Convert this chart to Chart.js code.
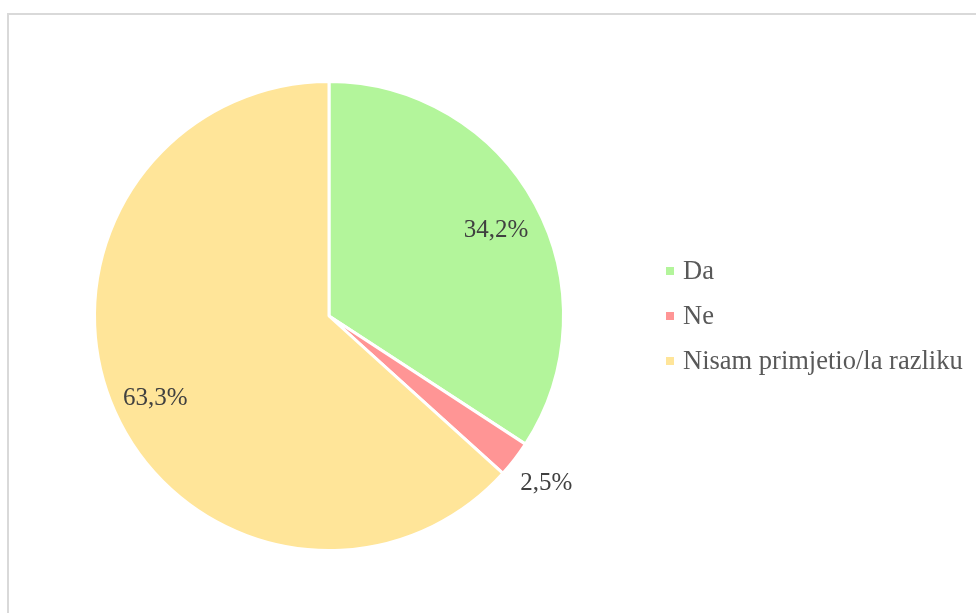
<!DOCTYPE html>
<html>
<head>
<meta charset="utf-8">
<script src="https://cdn.jsdelivr.net/npm/chart.js@4"></script>
<style>
  html, body { margin: 0; padding: 0; background: #fff; }
  #wrap { position: relative; width: 976px; height: 613px; overflow: hidden; }
  #frame { position: absolute; left: 7px; top: 13px; width: 1000px; height: 700px;
           border: 2px solid #d9d9d9; box-sizing: border-box; }
  canvas { position: absolute; left: 0; top: 0; }
</style>
</head>
<body>
<div id="wrap">
  <div id="frame"></div>
  <canvas id="pieChart" width="976" height="613"></canvas>
</div>
<script>
const labels = ["Da", "Ne", "Nisam primjetio/la razliku"];
const values = [34.2, 2.5, 63.3];
const colors = ["#b3f59b", "#ff9595", "#ffe599"];

const fontFamily = "'Liberation Serif', 'Times New Roman', serif";

// percentage labels on / next to the slices
const sliceLabels = {
  id: "sliceLabels",
  afterDatasetsDraw(chart) {
    const { ctx } = chart;
    const meta = chart.getDatasetMeta(0);
    ctx.save();
    ctx.font = "25px " + fontFamily;
    ctx.fillStyle = "#404040";
    ctx.textAlign = "center";
    ctx.textBaseline = "middle";
    meta.data.forEach((arc, i) => {
      const mid = (arc.startAngle + arc.endAngle) / 2;
      const small = values[i] < 5;
      const r = small ? arc.outerRadius * 1.17 : arc.outerRadius * 0.81;
      const x = arc.x + Math.cos(mid) * r;
      const y = arc.y + Math.sin(mid) * r + (small ? 0 : 5);
      const txt = values[i].toFixed(1).replace(".", ",") + "%";
      ctx.fillText(txt, x, y);
    });
    ctx.restore();
  }
};

// legend on the right
const sideLegend = {
  id: "sideLegend",
  afterDraw(chart) {
    const { ctx } = chart;
    ctx.save();
    ctx.font = "26.5px " + fontFamily;
    ctx.textBaseline = "middle";
    labels.forEach((lab, i) => {
      const y = 271 + i * 45;
      ctx.fillStyle = colors[i];
      ctx.fillRect(666, y - 4, 8, 8);
      ctx.fillStyle = "#595959";
      ctx.fillText(lab, 683, y + 1);
    });
    ctx.restore();
  }
};

new Chart(document.getElementById("pieChart"), {
  type: "pie",
  data: {
    labels: labels,
    datasets: [{
      data: values,
      backgroundColor: colors,
      borderColor: "#ffffff",
      borderWidth: 3
    }]
  },
  options: {
    responsive: false,
    animation: false,
    layout: {
      padding: { left: 93, top: 80, right: 411, bottom: 61 }
    },
    plugins: {
      legend: { display: false },
      tooltip: { enabled: false }
    }
  },
  plugins: [sliceLabels, sideLegend]
});
</script>
</body>
</html>
